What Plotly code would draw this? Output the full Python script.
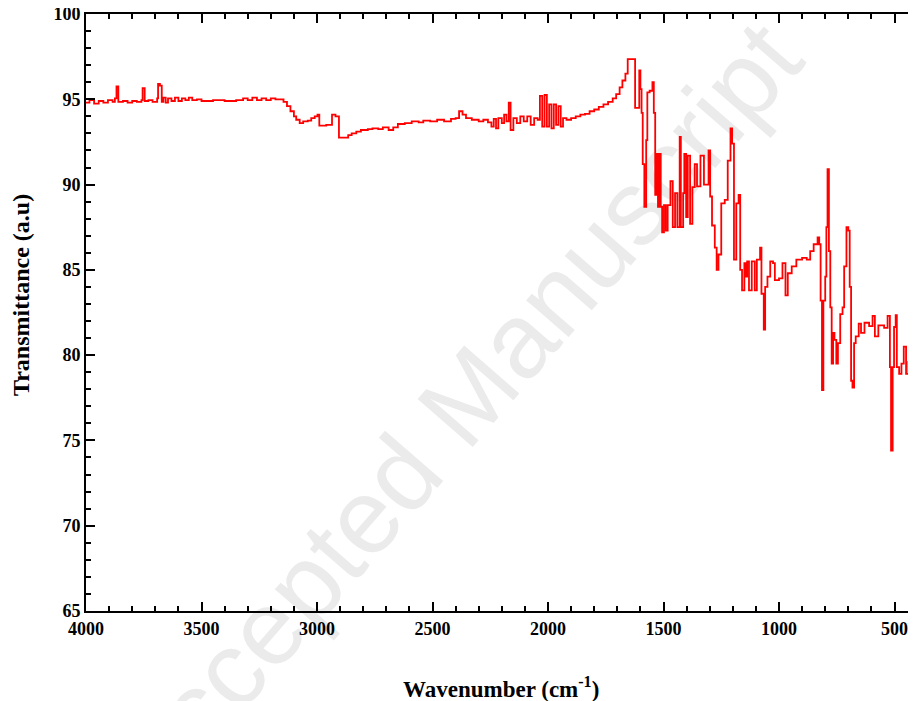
import plotly.graph_objects as go

wavenumber = [
    4000, 3985, 3965, 3945, 3925, 3905, 3885, 3875, 3868, 3860, 3840, 3820, 3800, 3780, 3760, 3755,
    3746, 3730, 3712, 3692, 3688, 3680, 3672, 3665, 3655, 3645, 3630, 3615, 3600, 3585, 3570, 3555,
    3540, 3520, 3500, 3450, 3400, 3350, 3320, 3300, 3280, 3260, 3240, 3220, 3200, 3180, 3160, 3145,
    3130, 3115, 3100, 3090, 3075, 3060, 3040, 3025, 3010, 2998, 2990, 2960, 2935, 2920, 2905, 2865,
    2850, 2830, 2810, 2780, 2760, 2735, 2715, 2690, 2670, 2650, 2620, 2590, 2560, 2540, 2510, 2480,
    2450, 2420, 2400, 2385, 2370, 2355, 2330, 2300, 2280, 2260, 2245, 2235, 2225, 2215, 2200, 2190,
    2180, 2170, 2162, 2150, 2135, 2120, 2105, 2090, 2075, 2060, 2045, 2035, 2025, 2015, 2005, 1995,
    1985, 1975, 1965, 1955, 1945, 1935, 1920, 1900, 1880, 1860, 1840, 1820, 1800, 1780, 1760, 1740,
    1720, 1705, 1690, 1678, 1665, 1655, 1623, 1605, 1600, 1595, 1590, 1583, 1575, 1570, 1560, 1548,
    1542, 1536, 1530, 1524, 1518, 1512, 1506, 1498, 1490, 1482, 1470, 1460, 1450, 1440, 1430, 1425,
    1415, 1410, 1402, 1395, 1385, 1375, 1365, 1355, 1340, 1325, 1305, 1298, 1290, 1278, 1270, 1262,
    1250, 1235, 1222, 1210, 1203, 1195, 1185, 1175, 1168, 1160, 1150, 1145, 1138, 1130, 1118, 1105,
    1096, 1082, 1076, 1066, 1060, 1050, 1038, 1026, 1018, 1000, 985, 972, 962, 945, 925, 900,
    880, 865, 850, 833, 826, 820, 814, 808, 800, 795, 790, 784, 778, 772, 766, 760,
    752, 745, 735, 725, 718, 708, 700, 694, 688, 682, 675, 668, 655, 645, 630, 610,
    595, 585, 570, 545, 530, 520, 515, 508, 502, 495, 490, 480, 470, 460, 450, 440,
    430, 420, 410,
]
transmittance = [
    94.8, 94.95, 94.75, 94.9, 94.8, 94.95, 94.85, 95.05, 95.75, 94.85, 94.9, 94.8, 94.9, 94.85, 94.95, 95.65,
    94.9, 94.95, 94.85, 95.05, 95.9, 95.8, 94.85, 95.1, 94.8, 95.05, 94.9, 95.1, 94.9, 95.05, 94.95, 95.1,
    94.95, 95.0, 94.9, 94.95, 94.9, 94.95, 95.05, 94.95, 95.1, 94.95, 95.05, 94.95, 95.05, 95.0, 95.0, 94.85,
    94.6, 94.3, 94.0, 93.8, 93.6, 93.7, 93.75, 93.9, 94.0, 94.1, 93.45, 93.5, 94.1, 94.0, 92.75, 92.9,
    93.0, 93.1, 93.2, 93.25, 93.3, 93.25, 93.35, 93.2, 93.35, 93.55, 93.6, 93.7, 93.65, 93.75, 93.7, 93.8,
    93.7, 93.85, 93.9, 94.3, 94.1, 93.9, 93.8, 93.7, 93.8, 93.65, 93.4, 93.85, 93.3, 93.9, 93.6, 94.1,
    93.7, 94.8, 93.2, 93.9, 93.6, 94.0, 93.7, 94.0, 93.5, 93.9, 93.8, 95.2, 93.4, 95.25, 93.4, 94.7,
    93.3, 94.7, 93.5, 94.6, 93.4, 93.9, 93.8, 93.9, 94.0, 94.1, 94.15, 94.3, 94.4, 94.55, 94.7, 94.85,
    95.05, 95.3, 95.7, 96.1, 96.5, 97.35, 94.5, 96.7, 95.6, 94.2, 91.2, 88.7, 92.6, 95.4, 95.5, 96.0,
    94.2, 89.4, 91.8, 88.7, 91.8, 88.7, 87.2, 88.8, 87.3, 88.8, 90.2, 87.5, 89.5, 87.5, 92.8, 87.5,
    89.5, 91.8, 88.1, 91.7, 87.7, 89.85, 91.2, 89.9, 91.7, 90.0, 92.0, 89.3, 87.6, 86.3, 85.0, 85.9,
    88.9, 89.1, 91.4, 93.3, 92.4, 85.6, 88.9, 89.4, 85.0, 83.8, 85.4, 84.6, 85.5, 83.8, 85.5, 83.8,
    85.6, 86.3, 83.6, 81.5, 84.0, 84.6, 85.5, 85.4, 84.4, 84.5, 85.4, 83.5, 84.8, 85.2, 85.6, 85.7,
    85.6, 86.1, 86.5, 86.9, 86.5, 83.2, 77.95, 83.2, 84.6, 87.5, 90.9, 86.1, 82.8, 79.5, 81.3, 80.9,
    79.5, 80.7, 82.4, 82.8, 85.2, 87.5, 87.3, 84.0, 78.5, 78.1, 80.7, 81.1, 81.85, 81.3, 81.9, 81.7,
    82.3, 81.1, 81.75, 81.6, 82.3, 79.3, 74.4, 79.3, 81.65, 82.35, 79.3, 78.9, 79.5, 80.5, 78.9, 79.6,
    78.5, 78.1, 77.0,
]

x_tickvals = [4000, 3500, 3000, 2500, 2000, 1500, 1000, 500]
y_tickvals = [65, 70, 75, 80, 85, 90, 95, 100]

fig = go.Figure()
fig.add_trace(go.Scatter(
    x=wavenumber, y=transmittance, mode="lines",
    line=dict(color="#ff0000", width=1.8, shape="hv"),
    showlegend=False, hoverinfo="skip",
))

tickfont = dict(family="Liberation Serif", size=18, color="black", weight="bold")

# page body has an 8px margin; the figure is sized/offset to compensate
fig.update_layout(
    width=908, height=693,
    margin=dict(l=78, r=0, t=6, b=90),
    paper_bgcolor="white", plot_bgcolor="rgba(0,0,0,0)",
    xaxis=dict(
        range=[4000, 407], tickvals=x_tickvals, ticktext=[str(v) for v in x_tickvals],
        ticks="inside", ticklen=9, tickwidth=1.5, tickcolor="black",
        minor=dict(dtick=100, tick0=0, ticks="inside", ticklen=5, tickwidth=1.5, tickcolor="black"),
        showline=True, linecolor="black", linewidth=2, mirror="ticks",
        showgrid=False, zeroline=False, tickfont=tickfont, automargin=False,
        ticklabeloverflow="allow",
    ),
    yaxis=dict(
        range=[65, 100], tickvals=y_tickvals, ticktext=[str(v) for v in y_tickvals],
        ticks="inside", ticklen=9, tickwidth=1.5, tickcolor="black",
        minor=dict(dtick=1, tick0=0, ticks="inside", ticklen=5, tickwidth=1.5, tickcolor="black"),
        showline=True, linecolor="black", linewidth=2, mirror=False,
        showgrid=False, zeroline=False, tickfont=tickfont, automargin=False,
        ticklabeloverflow="allow",
    ),
)

# watermark
fig.add_shape(
    type="line", xref="paper", yref="paper",
    x0=0.345, y0=0.205, x1=0.525, y1=0.485,
    line=dict(color="rgba(0,0,0,0)", width=0), layer="below",
    label=dict(text="Accepted Manuscript", textangle=-49, textposition="middle",
               xanchor="center", yanchor="middle",
               font=dict(family="Liberation Sans", size=106, color="#ebebeb")),
)

# axis titles
fig.add_annotation(
    text="Wavenumber (cm<sup>-1</sup>)", xref="paper", yref="paper",
    x=0.5, y=-0.128, xanchor="center", yanchor="middle", showarrow=False,
    font=dict(family="Liberation Serif", size=23, color="black", weight="bold"),
)
fig.add_annotation(
    text="Transmittance (a.u)", xref="paper", yref="paper",
    x=-0.079, y=0.53, xanchor="center", yanchor="middle", showarrow=False, textangle=-90,
    font=dict(family="Liberation Serif", size=24, color="black", weight="bold"),
)

fig.write_html("out.html")
